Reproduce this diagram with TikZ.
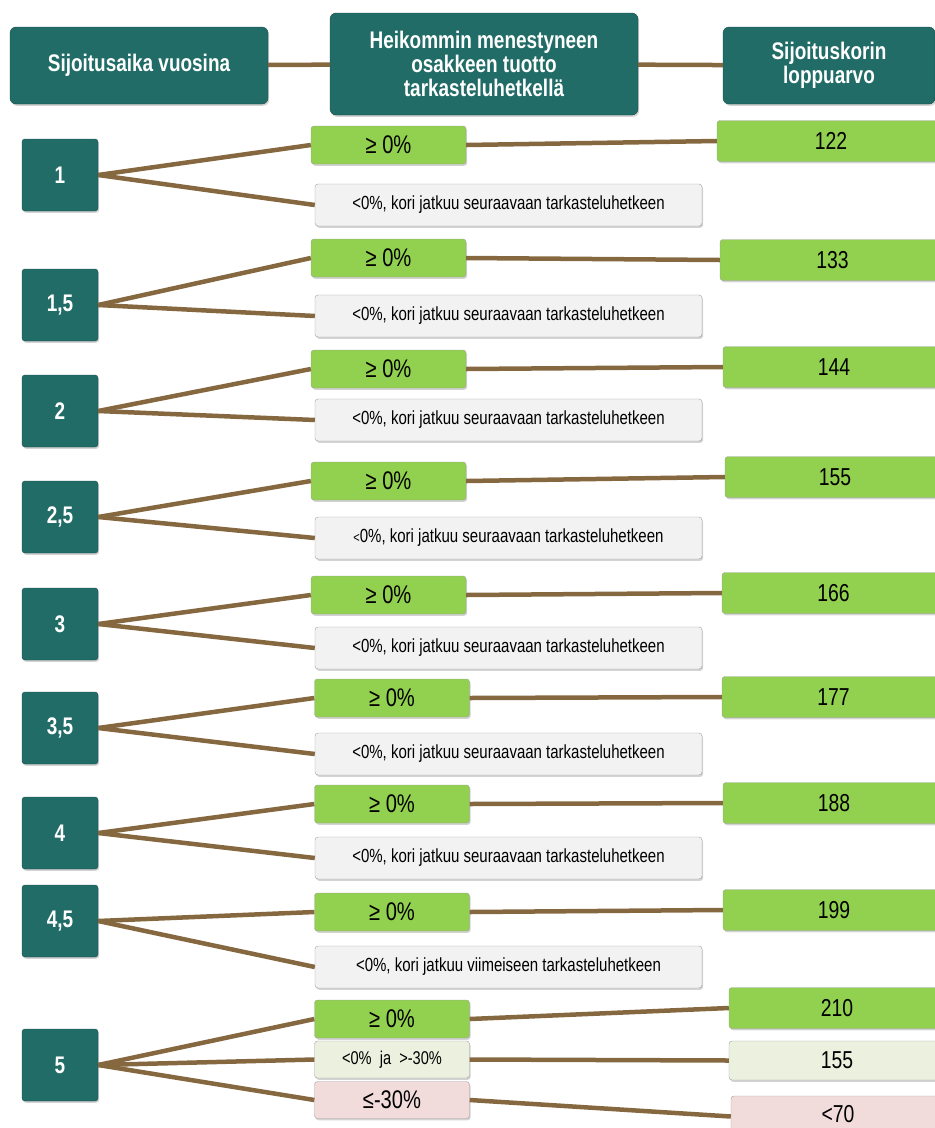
\documentclass[tikz,border=0pt]{standalone}
\usepackage{fontspec}
\setmainfont{Liberation Sans}[FakeStretch=0.79]
\usetikzlibrary{shadows}
\definecolor{headteal}{HTML}{216C67}
\definecolor{okgreen}{HTML}{92D050}
\definecolor{midgreen}{HTML}{EBF1DE}
\definecolor{lossred}{HTML}{F2DCDB}
\definecolor{boxgray}{HTML}{F2F2F2}
\definecolor{branch}{HTML}{85683F}

\begin{document}
\begin{tikzpicture}[
    x=1pt, y=-1pt,
    box/.style={draw=gray!75, rounded corners=3pt, inner sep=0pt, align=center,
        drop shadow={opacity=0.35, shadow xshift=1.2pt, shadow yshift=-1.8pt}},
    head/.style={box, fill=headteal, draw=headteal!70!black, rounded corners=6pt, text=white, font=\fontsize{24}{24}\selectfont\bfseries},
    year/.style={box, fill=headteal, draw=headteal!70!black, minimum width=76pt, minimum height=72pt, text=white, font=\fontsize{24}{24}\selectfont\bfseries},
    up/.style={box, fill=okgreen, minimum width=155pt, minimum height=38pt, font=\fontsize{25.5}{26}\selectfont},
    down/.style={box, fill=boxgray, minimum width=387pt, minimum height=42pt, font=\fontsize{19}{20}\selectfont},
    value/.style={box, fill=okgreen, minimum height=41pt, font=\fontsize{24.5}{25}\selectfont},
    link/.style={draw=branch, line width=4.5pt},
]
    \useasboundingbox (0,0) rectangle (935,1128);

    % Header
    \node[head, minimum width=258pt, minimum height=77pt] (hyear) at (139,65.5) {Sijoitusaika vuosina};
    \node[head, minimum width=308pt, minimum height=102pt] (hret) at (484,64) {Heikommin menestyneen\\osakkeen tuotto\\tarkasteluhetkellä};
    \node[head, minimum width=212pt, minimum height=77pt] (hval) at (829,65.5) {Sijoituskorin\\loppuarvo};
    \draw[link] (hyear) -- (hret);
    \draw[link] (hret) -- (hval);

    % 1 year
    \node[year] (y1) at (60,175) {1};
    \node[up] (u1) at (388.5,145) {≥ 0\%};
    \node[down] (d1) at (508.5,205) {<0\%, kori jatkuu seuraavaan tarkasteluhetkeen};
    \node[value, minimum width=228pt] (v1) at (831,141) {122};

    % 1,5 years
    \node[year] (y15) at (60,305) {1,5};
    \node[up] (u15) at (388.5,258) {≥ 0\%};
    \node[down] (d15) at (508.5,316) {<0\%, kori jatkuu seuraavaan tarkasteluhetkeen};
    \node[value, minimum width=225pt] (v15) at (832.5,260) {133};

    % 2 years
    \node[year] (y2) at (60,411) {2};
    \node[up] (u2) at (388.5,369) {≥ 0\%};
    \node[down] (d2) at (508.5,420) {<0\%, kori jatkuu seuraavaan tarkasteluhetkeen};
    \node[value, minimum width=222pt] (v2) at (834,367) {144};

    % 2,5 years
    \node[year] (y25) at (60,517) {2,5};
    \node[up] (u25) at (388.5,481) {≥ 0\%};
    \node[down] (d25) at (508.5,538) {{\fontsize{14}{15}\selectfont<}0\%, kori jatkuu seuraavaan tarkasteluhetkeen};
    \node[value, minimum width=220pt] (v25) at (835,477) {155};

    % 3 years
    \node[year] (y3) at (60,624) {3};
    \node[up] (u3) at (388.5,595) {≥ 0\%};
    \node[down] (d3) at (508.5,648) {<0\%, kori jatkuu seuraavaan tarkasteluhetkeen};
    \node[value, minimum width=223pt] (v3) at (833.5,593) {166};

    % 3,5 years
    \node[year] (y35) at (60,728) {3,5};
    \node[up] (u35) at (392,698) {≥ 0\%};
    \node[down] (d35) at (508.5,754) {<0\%, kori jatkuu seuraavaan tarkasteluhetkeen};
    \node[value, minimum width=223pt] (v35) at (833.5,697) {177};

    % 4 years
    \node[year] (y4) at (60,833) {4};
    \node[up] (u4) at (392,804) {≥ 0\%};
    \node[down] (d4) at (508.5,858) {<0\%, kori jatkuu seuraavaan tarkasteluhetkeen};
    \node[value, minimum width=222pt] (v4) at (834,803) {188};

    % 4,5 years
    \node[year] (y45) at (60,921) {4,5};
    \node[up] (u45) at (392,912) {≥ 0\%};
    \node[down] (d45) at (508.5,967) {<0\%, kori jatkuu viimeiseen tarkasteluhetkeen};
    \node[value, minimum width=222pt] (v45) at (834,910) {199};

    % 5 years
    \node[year] (y5) at (60,1065) {5};
    \node[up] (u5) at (392,1019) {≥ 0\%};
    \node[up, fill=midgreen, minimum height=37pt, font=\fontsize{18.5}{20}\selectfont] (m5) at (392,1059.5) {<0\%\ \ ja\ \ >-30\%};
    \node[up, fill=lossred, minimum height=37pt] (l5) at (392,1100) {≤-30\%};
    \node[value, minimum width=216pt] (v5) at (837,1008) {210};
    \node[value, fill=midgreen, minimum width=216pt, minimum height=39pt] (w5) at (837,1060.5) {155};
    \node[value, fill=lossred, minimum width=214pt, minimum height=41pt, text depth=6pt] (x5) at (838,1116.5) {<70};

    % Branches
    \draw[link] (y1.east) -- (u1.west);
    \draw[link] (y1.east) -- (d1.west);
    \draw[link] (u1.east) -- (v1.west);
    \draw[link] (y15.east) -- (u15.west);
    \draw[link] (y15.east) -- (d15.west);
    \draw[link] (u15.east) -- (v15.west);
    \draw[link] (y2.east) -- (u2.west);
    \draw[link] (y2.east) -- (d2.west);
    \draw[link] (u2.east) -- (v2.west);
    \draw[link] (y25.east) -- (u25.west);
    \draw[link] (y25.east) -- (d25.west);
    \draw[link] (u25.east) -- (v25.west);
    \draw[link] (y3.east) -- (u3.west);
    \draw[link] (y3.east) -- (d3.west);
    \draw[link] (u3.east) -- (v3.west);
    \draw[link] (y35.east) -- (u35.west);
    \draw[link] (y35.east) -- (d35.west);
    \draw[link] (u35.east) -- (v35.west);
    \draw[link] (y4.east) -- (u4.west);
    \draw[link] (y4.east) -- (d4.west);
    \draw[link] (u4.east) -- (v4.west);
    \draw[link] (y45.east) -- (u45.west);
    \draw[link] (y45.east) -- (d45.west);
    \draw[link] (u45.east) -- (v45.west);
    \draw[link] (y5.east) -- (u5.west);
    \draw[link] (y5.east) -- (m5.west);
    \draw[link] (y5.east) -- (l5.west);
    \draw[link] (u5.east) -- (v5.west);
    \draw[link] (m5.east) -- (w5.west);
    \draw[link] (l5.east) -- (x5.west);
\end{tikzpicture}
\end{document}
